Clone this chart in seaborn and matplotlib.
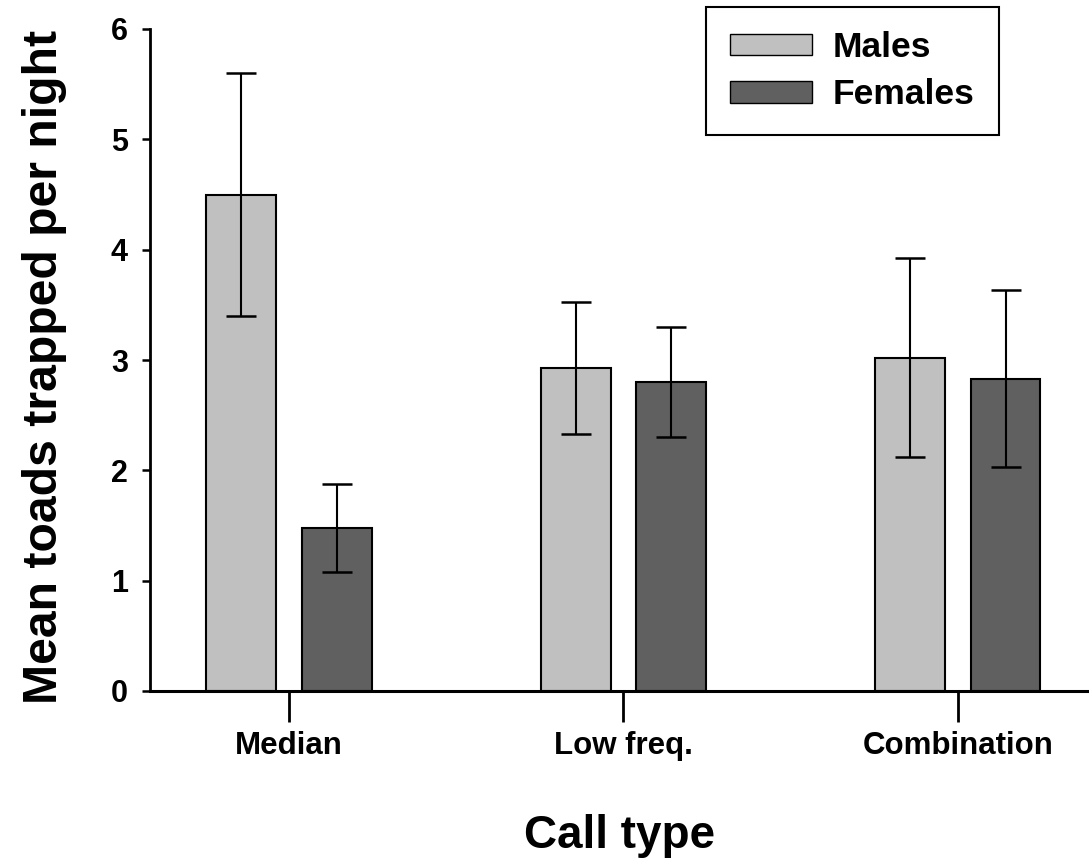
import matplotlib
matplotlib.use("Agg")
import matplotlib.pyplot as plt
from matplotlib.patches import Patch
import seaborn as sns
import pandas as pd
import numpy as np

categories = ["Median", "Low freq.", "Combination"]
male_means = [4.50, 2.93, 3.02]
male_err = [1.10, 0.60, 0.90]
female_means = [1.48, 2.80, 2.83]
female_err = [0.40, 0.50, 0.80]
series = ["Males", "Females"]
colors = {"Males": "#C0C0C0", "Females": "#606060"}
yticks = [0, 1, 2, 3, 4, 5, 6]

sns.set_style("ticks")
plt.rcParams["font.family"] = ["Liberation Sans", "DejaVu Sans"]
plt.rcParams["font.weight"] = "bold"
for k in ["text.color", "axes.labelcolor", "xtick.color", "ytick.color",
          "axes.edgecolor"]:
    plt.rcParams[k] = "black"

df = pd.DataFrame({
    "call": categories * 2,
    "sex": ["Males"] * 3 + ["Females"] * 3,
    "mean": male_means + female_means,
})
errs = {"Males": male_err, "Females": female_err}

fig = plt.figure(figsize=(10.89, 8.59), dpi=100)
ax = fig.add_axes([150 / 1089, 1 - 691 / 859, 1 - 150 / 1089, (691 - 29) / 859])

sns.barplot(data=df, x="call", y="mean", hue="sex", order=categories,
            hue_order=series, palette=colors, width=0.571, gap=0.27,
            edgecolor="black", linewidth=1.5, errorbar=None, ax=ax,
            legend=False)

for cont, s in zip(ax.containers, series):
    xs = [p.get_x() + p.get_width() / 2 for p in cont.patches]
    hs = [p.get_height() for p in cont.patches]
    ax.errorbar(xs, hs, yerr=errs[s], fmt="none", ecolor="black",
                elinewidth=1.5, capsize=10.5, capthick=1.8, zorder=5)

ax.set_ylim(0, 6)
ax.set_xlim(-0.4155, 2.392)
ax.set_yticks(yticks)
ax.set_yticklabels([str(v) for v in yticks])
sns.despine(ax=ax)
ax.spines["left"].set_linewidth(2.0)
ax.spines["bottom"].set_linewidth(2.2)
ax.tick_params(axis="y", direction="out", length=6, width=1.8, pad=10,
               labelsize=22)
ax.tick_params(axis="x", direction="out", length=22, width=2.0, pad=7,
               labelsize=22.5)
for lab in ax.get_xticklabels() + ax.get_yticklabels():
    lab.set_fontweight("bold")

ax.set_xlabel("Call type", fontsize=33, fontweight="bold", labelpad=38)
ax.set_ylabel("Mean toads trapped per night", fontsize=34.7, fontweight="bold")
ax.yaxis.set_label_coords(-0.0884, 0.49)

handles = [Patch(facecolor=colors[s], edgecolor="black", linewidth=1.0)
           for s in series]
leg = ax.legend(handles, series, loc="upper right",
                bbox_to_anchor=(999 / 1089, 1 - 7 / 859),
                bbox_transform=fig.transFigure, borderaxespad=0,
                fancybox=False, frameon=True, framealpha=1,
                edgecolor="black", prop={"weight": "bold", "size": 25.5},
                handlelength=2.3, handleheight=0.57, handletextpad=0.6,
                borderpad=0.68, labelspacing=0.4)
leg.get_frame().set_linewidth(1.5)

fig.savefig("out.png", dpi=100)
